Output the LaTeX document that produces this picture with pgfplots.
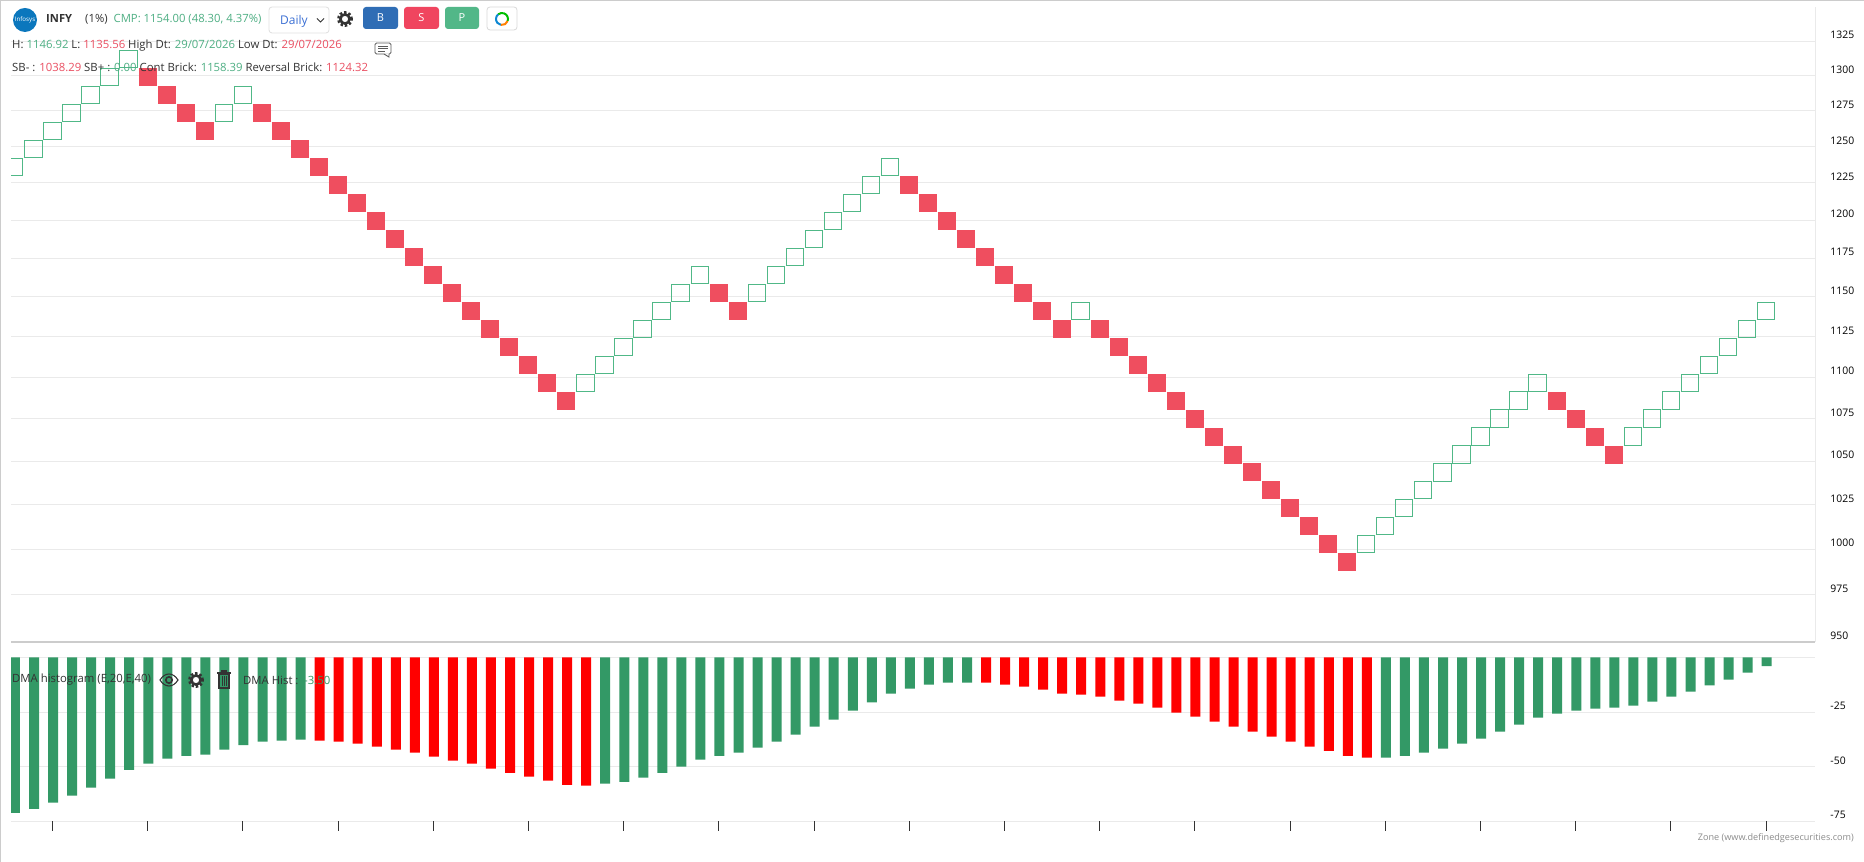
\documentclass[border=0pt]{standalone}
\usepackage{pgfplots}
\pgfplotsset{compat=1.18}
\usepackage{fontspec}
\setmainfont{Open Sans}
\definecolor{brickG}{HTML}{50B887}
\definecolor{brickR}{HTML}{EF4E5F}
\definecolor{barG}{HTML}{339966}
\definecolor{gridc}{HTML}{EAEAEA}
\definecolor{sepc}{HTML}{CCCCCC}
\definecolor{txt}{HTML}{333333}
\definecolor{txtG}{HTML}{4FAF84}
\definecolor{txtR}{HTML}{EA4F62}
\definecolor{btnB}{HTML}{2F6DB5}
\definecolor{btnS}{HTML}{F0455F}
\definecolor{btnP}{HTML}{52B788}
\definecolor{logo}{HTML}{0B77BD}
\definecolor{dailyc}{HTML}{3B6FD4}
\pgfdeclareplotmark{brickopen}{\pgfpathrectangle{\pgfqpoint{-8.7pt}{-8.6pt}}{\pgfqpoint{17.4pt}{17.2pt}}\pgfusepathqstroke}
\pgfdeclareplotmark{brickfull}{\pgfpathrectangle{\pgfqpoint{-9pt}{-9pt}}{\pgfqpoint{18pt}{18pt}}\pgfusepathqfill}
\newcommand\gear[2]{%
  \draw[txt,line width=2.6pt,dash pattern=on 2.4pt off 2pt] (#1,#2) circle (6.6);
  \draw[txt,line width=2.6pt] (#1,#2) circle (4.6);}
\begin{document}
\begin{tikzpicture}[x=1pt,y=1pt]
\path[use as bounding box] (0,0) rectangle (1864,862);
\fill[white] (0,0) rectangle (1864,862);
% ---------------- price panel
\begin{axis}[
  at={(11pt,220pt)},anchor=south west,
  scale only axis,width=1804.3pt,height=635pt,
  ymode=log,ymin=950,ymax=1350.5,
  xmin=-0.173,xmax=94.59,
  xtick=\empty,
  ytick={950,975,1000,1025,1050,1075,1100,1125,1150,1175,1200,1225,1250,1275,1300,1325},
  yticklabels={950,975,1000,1025,1050,1075,1100,1125,1150,1175,1200,1225,1250,1275,1300,1325},
  ytick pos=right,major tick length=0pt,
  yticklabel style={anchor=west,inner sep=0pt,xshift=15pt,yshift=6pt,font=\fontsize{10.4}{12}\selectfont,text=black},
  ymajorgrids,grid style={gridc,line width=1pt},
  axis line style={draw=none},
  clip marker paths=true,
]
\addplot[only marks,mark=brickopen,mark options={draw=brickG,line width=1pt}] table {
0 1235.79
1 1248.15
2 1260.63
3 1273.23
4 1285.96
5 1298.82
6 1311.81
11 1273.23
12 1285.96
30 1096.70
31 1107.67
32 1118.74
33 1129.93
34 1141.23
35 1152.64
36 1164.17
39 1152.64
40 1164.17
41 1175.81
42 1187.57
43 1199.44
44 1211.44
45 1223.55
46 1235.79
56 1141.23
71 1002.76
72 1012.79
73 1022.91
74 1033.14
75 1043.47
76 1053.91
77 1064.45
78 1075.09
79 1085.84
80 1096.70
85 1064.45
86 1075.09
87 1085.84
88 1096.70
89 1107.67
90 1118.74
91 1129.93
92 1141.23
};
\addplot[only marks,mark=brickfull,mark options={fill=brickR,draw=none}] table {
7 1298.82
8 1285.96
9 1273.23
10 1260.63
13 1273.23
14 1260.63
15 1248.15
16 1235.79
17 1223.55
18 1211.44
19 1199.44
20 1187.57
21 1175.81
22 1164.17
23 1152.64
24 1141.23
25 1129.93
26 1118.74
27 1107.67
28 1096.70
29 1085.84
37 1152.64
38 1141.23
47 1223.55
48 1211.44
49 1199.44
50 1187.57
51 1175.81
52 1164.17
53 1152.64
54 1141.23
55 1129.93
57 1129.93
58 1118.74
59 1107.67
60 1096.70
61 1085.84
62 1075.09
63 1064.45
64 1053.91
65 1043.47
66 1033.14
67 1022.91
68 1012.79
69 1002.76
70 992.83
81 1085.84
82 1075.09
83 1064.45
84 1053.91
};
\end{axis}
% ---------------- histogram panel
\begin{axis}[
  at={(11pt,40.7pt)},anchor=south west,
  scale only axis,width=1804.3pt,height=163.8pt,
  ymin=-75,ymax=0,
  xmin=-0.173,xmax=94.59,
  xtick={2,7,...,92},xticklabels={},
  x tick style={draw=txt,line width=0.9pt},
  xtick pos=bottom,xtick align=outside,
  ytick={-75,-50,-25,0},yticklabels={-75,-50,-25,{}},
  ytick pos=right,
  tick style={major tick length=9.4pt},
  y tick style={draw=none},
  yticklabel style={anchor=west,inner sep=0pt,xshift=15pt,yshift=6pt,font=\fontsize{10.4}{12}\selectfont,text=black},
  ymajorgrids,grid style={gridc,line width=1pt},
  axis line style={draw=none},
  ybar,bar width=10pt,bar shift=0.7pt,
]
\addplot[fill=barG,draw=none] table {
0 -71.1
1 -69.3
2 -66.5
3 -63.3
4 -59.6
5 -55.5
6 -51.4
7 -48.6
8 -46.3
9 -45.1
10 -44.5
11 -42.2
12 -40.1
13 -38.5
14 -38.1
15 -37.6
31 -57.8
32 -56.9
33 -55.0
34 -52.8
35 -50.0
36 -46.8
37 -45.0
38 -43.6
39 -41.3
40 -38.5
41 -35.3
42 -31.7
43 -28.4
44 -24.3
45 -20.6
46 -16.5
47 -14.2
48 -12.4
49 -11.5
50 -11.5
72 -45.9
73 -45.0
74 -43.6
75 -41.7
76 -39.4
77 -37.2
78 -33.9
79 -30.7
80 -27.5
81 -25.7
82 -24.3
83 -23.4
84 -22.9
85 -22.0
86 -20.2
87 -17.9
88 -15.6
89 -12.8
90 -10.1
91 -6.9
92 -4.0
};
\addplot[fill=red,draw=none] table {
16 -38.1
17 -38.5
18 -39.4
19 -40.8
20 -42.2
21 -43.6
22 -45.4
23 -47.2
24 -48.6
25 -50.9
26 -52.8
27 -54.6
28 -56.4
29 -58.3
30 -58.7
51 -11.5
52 -12.4
53 -13.3
54 -14.7
55 -16.5
56 -17.0
57 -17.9
58 -19.7
59 -21.1
60 -22.9
61 -25.2
62 -27.1
63 -29.4
64 -31.7
65 -33.9
66 -36.2
67 -38.5
68 -40.8
69 -42.7
70 -45.0
71 -45.9
};
\end{axis}
% ---------------- frame and separators
\draw[sepc,line width=1pt] (0.5,0) -- (0.5,862);
\draw[sepc,line width=1pt] (0,861.5) -- (1864,861.5);
\draw[sepc,line width=1.8pt] (11,220) -- (1815.3,220);
\draw[gridc,line width=1pt] (1815.3,220) -- (1815.3,855);
% ---------------- header
\fill[logo] (25,842) circle (12);
\node[text=white,font=\fontsize{6.2}{7}\selectfont,inner sep=0] at (25,842) {Infosys};
\node[anchor=west,inner sep=0,text=txt,font=\fontsize{11.2}{13}\selectfont\bfseries] at (46,843) {INFY};
\node[anchor=west,inner sep=0,font=\fontsize{11.3}{13}\selectfont] at (85,843) {\color{txt}(1\%)\hspace{6pt}\color{txtG}CMP: 1154.00 (48.30, 4.37\%)};
\draw[rounded corners=3pt,draw=black!12,fill=white,line width=0.8pt] (269,829) rectangle (329,855);
\node[anchor=west,inner sep=0,text=dailyc,font=\fontsize{12}{13}\selectfont] at (280,841) {Daily};
\draw[txt,line width=1pt] (317,843.5) -- (320.5,840) -- (324,843.5);
\gear{345}{843}
\fill[btnB,rounded corners=3pt] (363,833) rectangle (398,855);
\fill[btnS,rounded corners=3pt] (404,833) rectangle (439,855);
\fill[btnP,rounded corners=3pt] (445,833) rectangle (479,855);
\node[text=white,font=\fontsize{11}{12}\selectfont,inner sep=0] at (380.5,844) {B};
\node[text=white,font=\fontsize{11}{12}\selectfont,inner sep=0] at (421.5,844) {S};
\node[text=white,font=\fontsize{11}{12}\selectfont,inner sep=0] at (462,844) {P};
\draw[rounded corners=3pt,draw=black!15,fill=white,line width=0.8pt] (487,832) rectangle (517,855);
\draw[green!75!black,line width=2pt] (502,843)++(-20:6) arc (-20:130:6);
\draw[cyan!70!blue,line width=2pt] (502,843)++(130:6) arc (130:260:6);
\draw[orange,line width=2pt] (502,843)++(260:6) arc (260:340:6);
% ---------------- info lines
\node[anchor=west,inner sep=0,font=\fontsize{11.35}{13}\selectfont] at (12,816.3) {\color{txt}H: \color{txtG}1146.92 \color{txt}L: \color{txtR}1135.56 \color{txt}High Dt: \color{txtG}29/07/2026 \color{txt}Low Dt: \color{txtR}29/07/2026};
\node[anchor=west,inner sep=0,font=\fontsize{11.35}{13}\selectfont] at (12,794.3) {\color{txt}SB- : \color{txtR}1038.29 \color{txt}SB+ : \color{txtG}0.00 \color{txt}Cont Brick: \color{txtG}1158.39 \color{txt}Reversal Brick: \color{txtR}1124.32};
\draw[txt!80,line width=0.9pt,rounded corners=1.5pt] (375,819) rectangle (391,808) ;
\fill[white] (384,808.5) -- (389,808.5) -- (389,805) -- cycle;
\draw[txt!80,line width=0.9pt] (384,808) -- (389,805) -- (389,808);
\draw[txt!80,line width=0.8pt] (378,816) -- (388,816) (378,813.5) -- (388,813.5) (378,811) -- (385,811);
% ---------------- histogram legend
\node[anchor=west,inner sep=0,font=\fontsize{11.35}{13}\selectfont,text=txt] at (12,182) {DMA histogram (E,20,E,40)};
\draw[txt,line width=1.1pt] (160,182) .. controls (165,190) and (173,190) .. (178,182) .. controls (173,174) and (165,174) .. (160,182) -- cycle;
\draw[txt,line width=1.6pt] (169,182) circle (3.2);
\gear{196}{182}
\draw[txt,line width=1.2pt] (219,188) rectangle (229,174);
\draw[txt,line width=1.4pt] (217,189) -- (231,189);
\draw[txt,line width=1.4pt] (221,191) -- (227,191);
\draw[txt,line width=1pt] (222,186) -- (222,176) (224,186) -- (224,176) (226,186) -- (226,176);
\node[anchor=west,inner sep=0,font=\fontsize{11.35}{13}\selectfont,text=txt] at (243,182) {DMA Hist :};
\node[anchor=west,inner sep=0,font=\fontsize{11.35}{13}\selectfont,text=barG] at (304,182) {-3.50};
\node[anchor=east,inner sep=0,font=\fontsize{9.1}{11}\selectfont,text=black!45] at (1854,24.3) {Zone (www.definedgesecurities.com)};
\end{tikzpicture}
\end{document}
